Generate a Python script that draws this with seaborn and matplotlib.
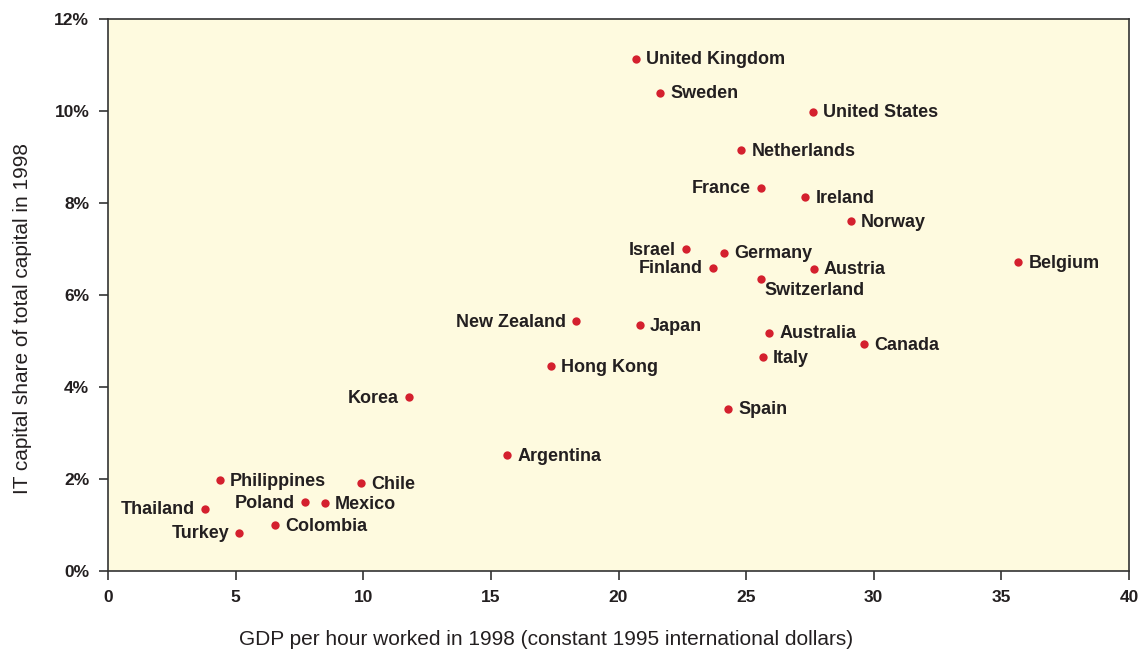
import matplotlib
matplotlib.use('Agg')
from matplotlib import pyplot as plt
import matplotlib.ticker as ticker
import seaborn as sns
import pandas as pd

sns.set_style('white')
plt.rcParams['font.family'] = ['Liberation Sans', 'DejaVu Sans']

countries = [
    'United Kingdom', 'Sweden', 'United States', 'Netherlands', 'France',
    'Ireland', 'Norway', 'Belgium', 'Israel', 'Germany', 'Finland', 'Austria',
    'Switzerland', 'New Zealand', 'Japan', 'Australia', 'Canada', 'Italy',
    'Hong Kong', 'Korea', 'Spain', 'Argentina', 'Philippines', 'Chile',
    'Thailand', 'Poland', 'Mexico', 'Colombia', 'Turkey',
]
gdp_per_hour = [
    20.67, 21.64, 27.62, 24.81, 25.57,
    27.32, 29.09, 35.67, 22.64, 24.15, 23.70, 27.66,
    25.57, 18.34, 20.84, 25.91, 29.62, 25.65,
    17.36, 11.79, 24.30, 15.64, 4.39, 9.91,
    3.79, 7.73, 8.50, 6.54, 5.15,
]
it_share = [
    11.14, 10.40, 9.98, 9.15, 8.33,
    8.12, 7.60, 6.71, 7.00, 6.92, 6.59, 6.57,
    6.35, 5.43, 5.34, 5.18, 4.93, 4.65,
    4.45, 3.78, 3.53, 2.52, 1.97, 1.91,
    1.35, 1.49, 1.47, 0.99, 0.83,
]
x_ticks = [0, 5, 10, 15, 20, 25, 30, 35, 40]
y_ticks = [0, 2, 4, 6, 8, 10, 12]

# where each label sits relative to its dot (default: right)
left_labels = {'France', 'Israel', 'Finland', 'New Zealand', 'Korea',
               'Thailand', 'Poland', 'Turkey'}
below_labels = {'Switzerland'}

df = pd.DataFrame({'country': countries, 'gdp': gdp_per_hour, 'it': it_share})

text_col = '#231f20'
fig, ax = plt.subplots(figsize=(11.42, 6.56), dpi=100)
ax.set_facecolor('#fefadf')

sns.scatterplot(data=df, x='gdp', y='it', ax=ax, color='#d4202e',
                s=36, linewidth=0, zorder=3)

for _, row in df.iterrows():
    if row['country'] in left_labels:
        off, ha = (-10, -1), 'right'
    elif row['country'] in below_labels:
        off, ha = (4, -12), 'left'
    else:
        off, ha = (10, -1), 'left'
    ax.annotate(row['country'], (row['gdp'], row['it']), xytext=off,
                textcoords='offset pixels', ha=ha, va='center',
                fontsize=13, fontweight='bold', color=text_col)

ax.set_xlim(0, 40)
ax.set_ylim(0, 12)
ax.set_xticks(x_ticks)
ax.set_yticks(y_ticks)
ax.yaxis.set_major_formatter(ticker.FuncFormatter(lambda y, pos: f'{int(y)}%'))
ax.tick_params(axis='both', direction='out', length=6.5, width=1.2,
               bottom=True, left=True,
               color='#333333', labelsize=12.5, labelcolor=text_col, pad=7)
for lbl in ax.get_xticklabels() + ax.get_yticklabels():
    lbl.set_fontweight('bold')
for sp in ax.spines.values():
    sp.set_color('#333333')
    sp.set_linewidth(1.2)

ax.set_xlabel('GDP per hour worked in 1998 (constant 1995 international dollars)',
              fontsize=15, color=text_col, va='center')
ax.set_ylabel('IT capital share of total capital in 1998',
              fontsize=15, color=text_col, va='center')
ax.xaxis.set_label_coords(0.429, -0.125)
ax.yaxis.set_label_coords(-0.084, 0.458)

plt.subplots_adjust(left=0.0946, right=0.9886, top=0.971, bottom=0.1296)
plt.savefig('out.png', dpi=100)
